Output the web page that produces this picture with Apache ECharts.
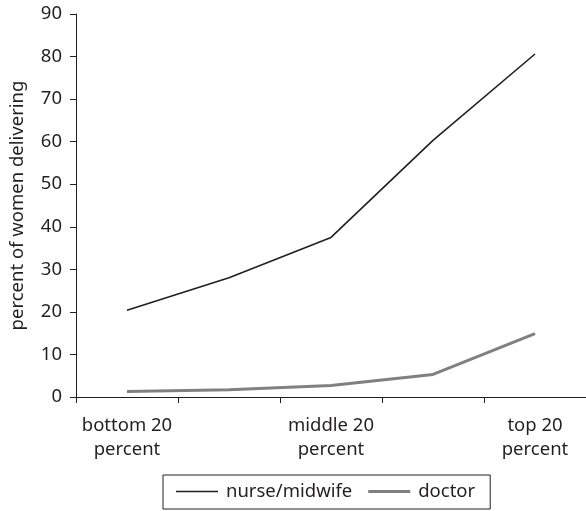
<!DOCTYPE html>
<html>
<head>
<meta charset="utf-8">
<script src="https://cdn.jsdelivr.net/npm/echarts@6/dist/echarts.min.js"></script>
<style>
  html, body { margin: 0; padding: 0; background: #fff; }
  #chart { width: 586px; height: 511px; }
</style>
</head>
<body>
<div id="chart"></div>
<script>
// wealth quintiles (only 3 are labelled on the axis)
const categories = ['bottom 20\npercent', 'q2', 'middle 20\npercent', 'q4', 'top 20\npercent'];
const shownLabels = ['bottom 20\npercent', '', 'middle 20\npercent', '', 'top 20\npercent'];
const nurseMidwife = [20.4, 28, 37.5, 60.3, 80.6];
const doctor = [1.3, 1.7, 2.7, 5.3, 14.9];
const yTicks = { min: 0, max: 90, interval: 10 };

const ink = '#231f20';
const grey = '#808080';
const font = 'Noto Sans';
const fs = 18.5;

const chart = echarts.init(document.getElementById('chart'), null, { renderer: 'canvas' });

chart.setOption({
  backgroundColor: '#fff',
  animation: false,
  textStyle: { fontFamily: font, color: ink },
  grid: { left: 73, right: -1, top: 14, bottom: 114, containLabel: false },
  legend: {
    left: 163,
    top: 475,
    padding: [7, 15, 8, 13],
    itemGap: 16,
    itemWidth: 42,
    itemHeight: 3,
    borderColor: ink,
    borderWidth: 1,
    textStyle: { fontSize: fs, color: ink, fontFamily: font, padding: [0, 0, 0, 3] },
    data: [
      { name: 'nurse/midwife', icon: 'path://M0,0h42v1.5h-42z', itemStyle: { color: ink } },
      { name: 'doctor', icon: 'rect', itemStyle: { color: grey } }
    ]
  },
  xAxis: {
    type: 'category',
    data: categories,
    boundaryGap: true,
    axisLine: { lineStyle: { color: ink, width: 1 } },
    axisTick: { show: true, length: 6, lineStyle: { color: ink } },
    axisLabel: {
      margin: 17,
      fontSize: fs,
      lineHeight: 24,
      color: ink,
      interval: 0,
      formatter: (v, i) => shownLabels[i]
    },
    splitLine: { show: false }
  },
  yAxis: {
    type: 'value',
    min: yTicks.min,
    max: yTicks.max,
    interval: yTicks.interval,
    name: 'percent of women delivering',
    nameLocation: 'middle',
    nameGap: 49,
    nameRotate: 90,
    nameTextStyle: { fontSize: fs, color: ink },
    axisLine: { show: true, lineStyle: { color: ink, width: 1 } },
    axisTick: { show: true, length: 6, lineStyle: { color: ink } },
    axisLabel: { fontSize: fs, color: ink, margin: 14 },
    splitLine: { show: false }
  },
  series: [
    {
      name: 'nurse/midwife',
      type: 'line',
      data: nurseMidwife,
      showSymbol: false,
      symbol: 'none',
      lineStyle: { color: ink, width: 1.6 },
      itemStyle: { color: ink }
    },
    {
      name: 'doctor',
      type: 'line',
      data: doctor,
      showSymbol: false,
      symbol: 'none',
      lineStyle: { color: grey, width: 3 },
      itemStyle: { color: grey }
    }
  ]
});
</script>
</body>
</html>
